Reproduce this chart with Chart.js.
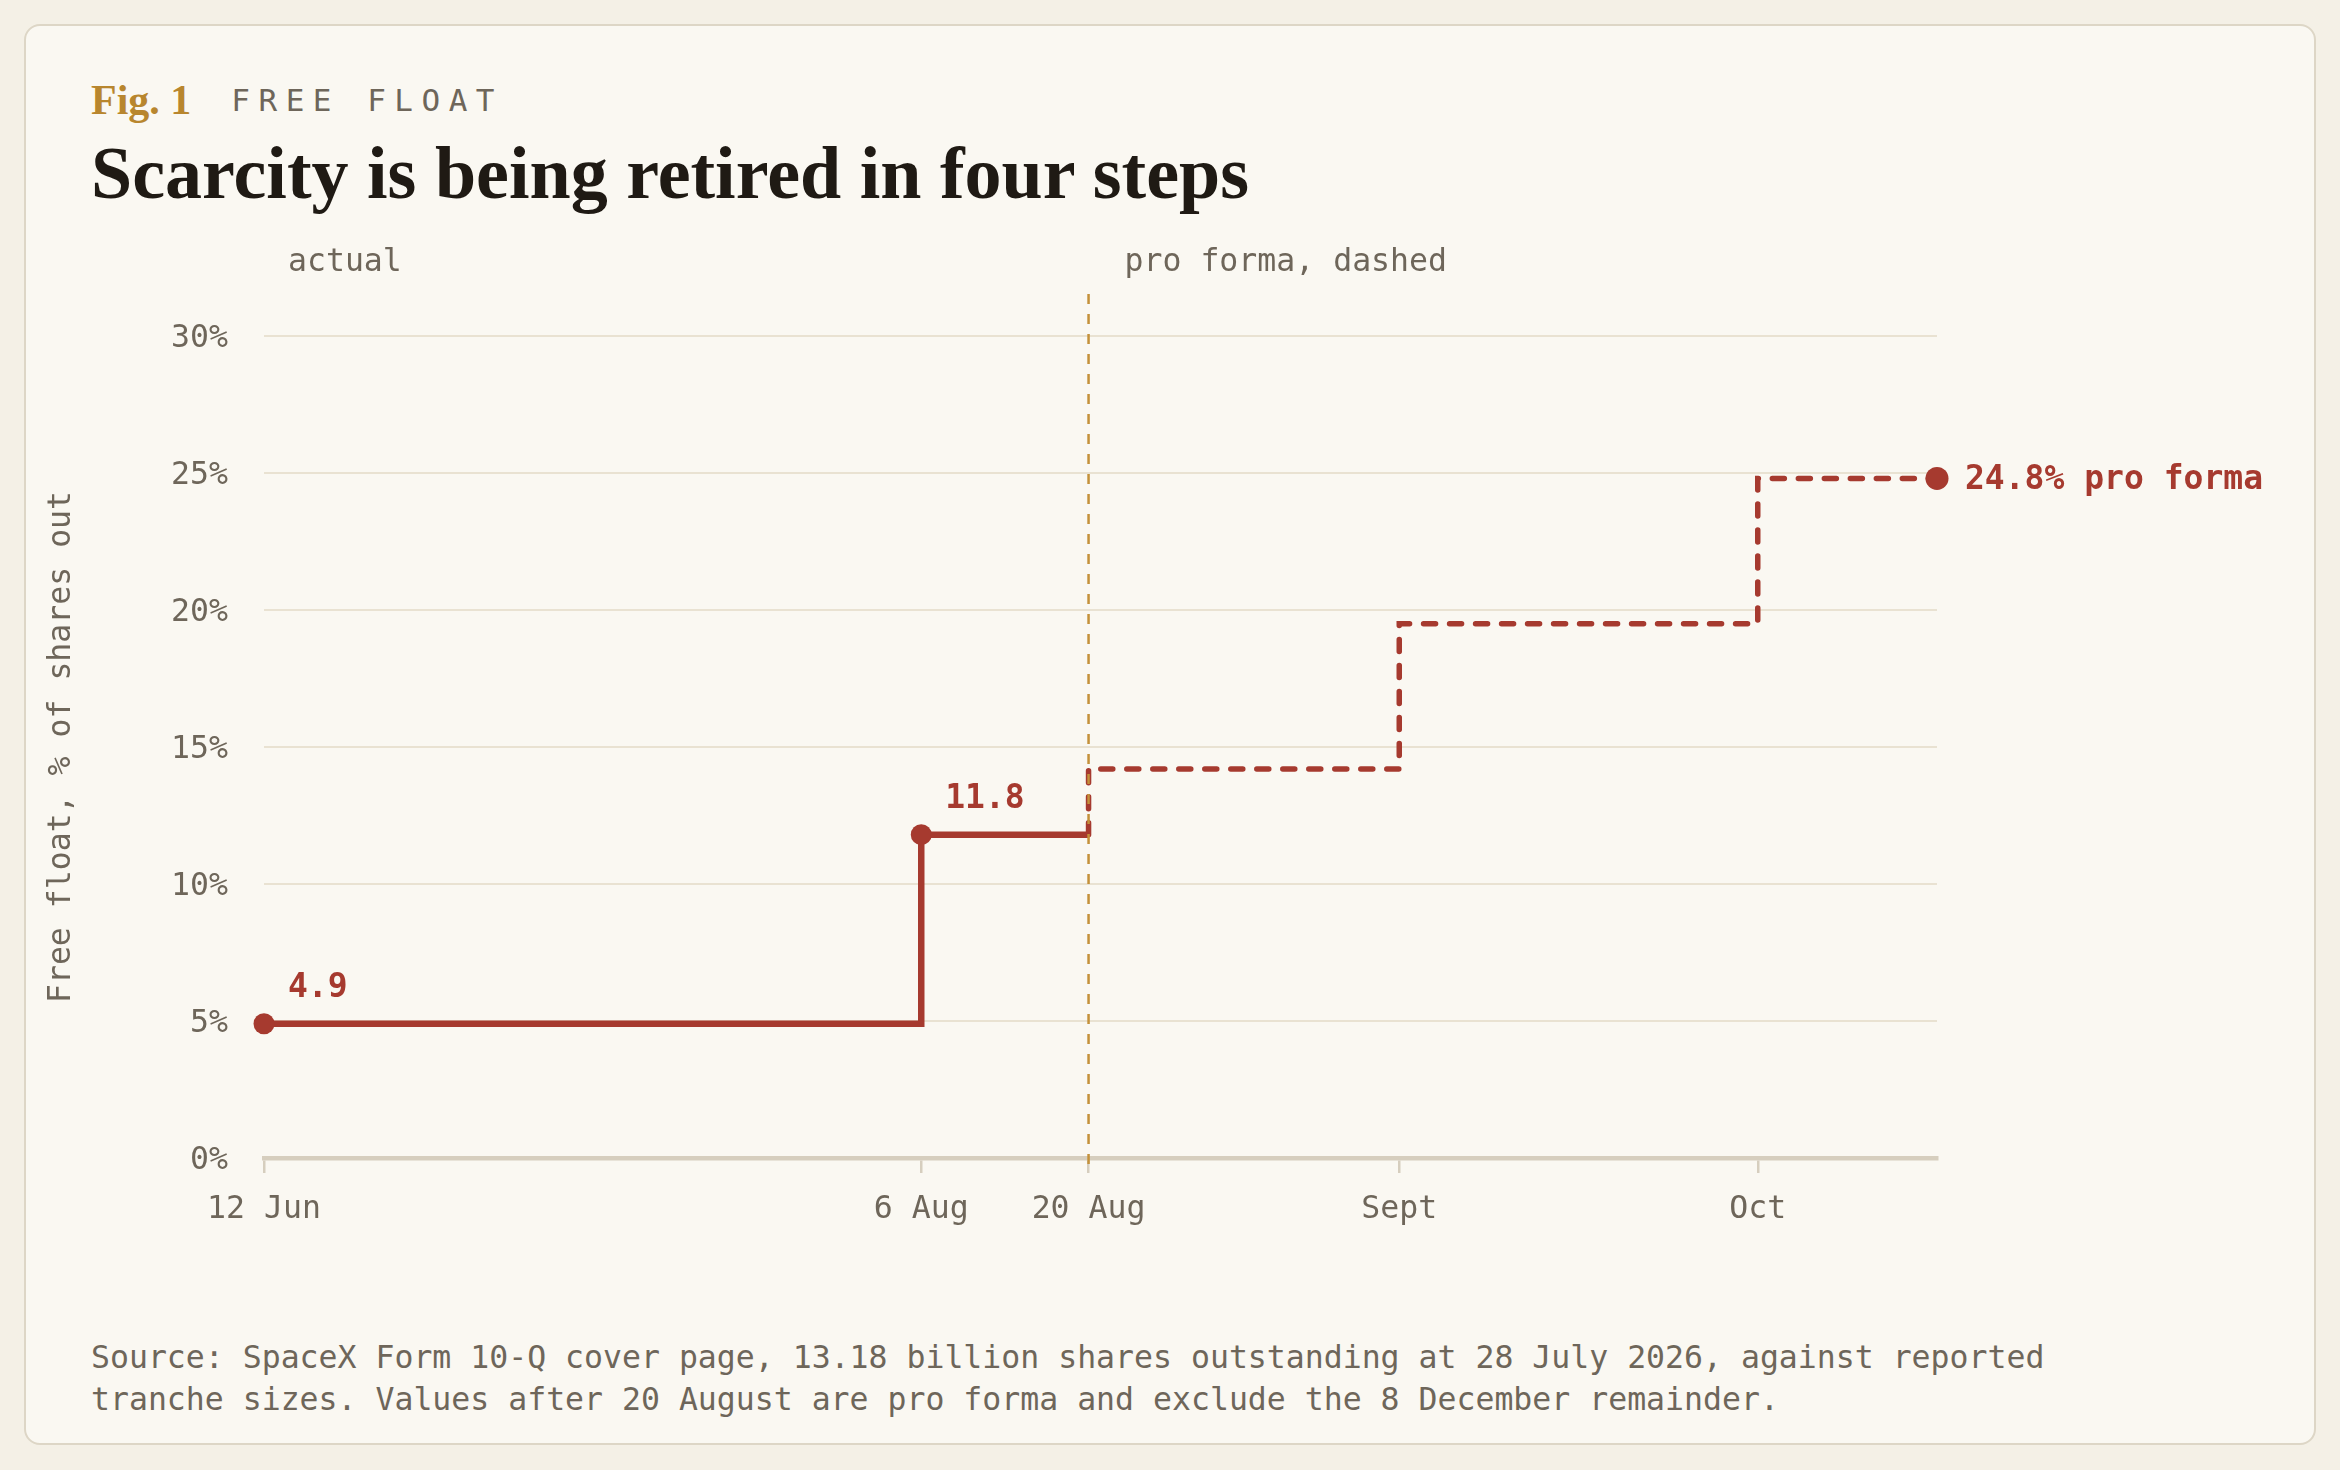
<!DOCTYPE html>
<html>
<head>
<meta charset="utf-8">
<script src="https://cdn.jsdelivr.net/npm/chart.js@4"></script>
<style>
  html, body { margin: 0; padding: 0; background: #f4f0e6; }
  body { width: 2340px; height: 1470px; position: relative; overflow: hidden; }
  .card {
    position: absolute; left: 24px; top: 24px; width: 2288px; height: 1417px;
    background: #faf8f2; border: 2px solid #ddd6c6; border-radius: 16px;
  }
  .kicker { position: absolute; left: 91px; top: 76px; white-space: nowrap; }
  .fig { font-family: "Liberation Serif", serif; font-weight: bold; font-size: 42px; color: #b8862e; }
  .label { font-family: "DejaVu Sans Mono", monospace; font-size: 31px; letter-spacing: 8.5px; color: #6e665a; margin-left: 40px; position: relative; top: -3px; }
  h1 {
    position: absolute; left: 91px; top: 133px; margin: 0;
    font-family: "Liberation Serif", serif; font-weight: bold; font-size: 74px; line-height: 80px;
    color: #1f1a14; white-space: nowrap;
  }
  .source {
    position: absolute; left: 91px; top: 1336px; margin: 0;
    font-family: "DejaVu Sans Mono", monospace; font-size: 31.5px; line-height: 42px; color: #6e665a;
  }
  canvas { position: absolute; left: 0; top: 0; }
</style>
</head>
<body>
<div class="card"></div>
<div class="kicker"><span class="fig">Fig. 1</span><span class="label">FREE FLOAT</span></div>
<h1>Scarcity is being retired in four steps</h1>
<p class="source">Source: SpaceX Form 10-Q cover page, 13.18 billion shares outstanding at 28 July 2026, against reported<br>tranche sizes. Values after 20 August are pro forma and exclude the 8 December remainder.</p>
<canvas id="chart" width="2340" height="1470"></canvas>
<script>
// Free float, % of shares outstanding
const startDate = '2026-06-12';
const endDate = '2026-10-30';
const cutoffDate = '2026-08-20';

// actual steps (last point carries the level to the cutoff)
const actualDates = ['2026-06-12', '2026-08-06', '2026-08-20'];
const actualValues = [4.9, 11.8, 11.8];
const actualLabels = ['4.9', '11.8', null];

// pro forma steps, starting from the last actual level
const proFormaDates = ['2026-08-20', '2026-08-20', '2026-09-15', '2026-10-15', '2026-10-30'];
const proFormaValues = [11.8, 14.2, 19.5, 24.8, 24.8];

const tickDates = ['2026-06-12', '2026-08-06', '2026-08-20', '2026-09-15', '2026-10-15'];
const tickLabels = ['12 Jun', '6 Aug', '20 Aug', 'Sept', 'Oct'];
const yTicks = [0, 5, 10, 15, 20, 25, 30];

const RED = '#a63a2f';
const GOLD = '#c4913a';
const INK = '#6e665a';
const MONO = '"DejaVu Sans Mono", monospace';

function dayOf(iso) {
  return (Date.parse(iso) - Date.parse(startDate)) / 86400000;
}

const actualPoints = actualDates.map((d, i) => ({ x: dayOf(d), y: actualValues[i] }));
const proFormaPoints = proFormaDates.map((d, i) => ({ x: dayOf(d), y: proFormaValues[i] }));

// Annotations: phase captions, cutoff line, value labels
const annotations = {
  id: 'annotations',
  afterDatasetsDraw(chart) {
    const { ctx, chartArea, scales: { x, y } } = chart;
    const cx = x.getPixelForValue(dayOf(cutoffDate));
    ctx.save();

    // cutoff line
    ctx.strokeStyle = GOLD;
    ctx.lineWidth = 2.5;
    ctx.setLineDash([10, 10]);
    ctx.beginPath();
    ctx.moveTo(cx, chartArea.top - 42);
    ctx.lineTo(cx, chartArea.bottom + 14);
    ctx.stroke();
    ctx.setLineDash([]);

    ctx.font = '31.5px ' + MONO;
    ctx.fillStyle = INK;
    ctx.textBaseline = 'middle';
    ctx.textAlign = 'left';
    ctx.fillText('actual', chartArea.left + 24, chartArea.top - 73);
    ctx.fillText('pro forma, dashed', cx + 36, chartArea.top - 73);

    // value labels
    ctx.font = 'bold 33px ' + MONO;
    ctx.fillStyle = RED;
    actualPoints.forEach((p, i) => {
      if (!actualLabels[i]) return;
      ctx.fillText(actualLabels[i], x.getPixelForValue(p.x) + 24, y.getPixelForValue(p.y) - 35);
    });
    const last = proFormaPoints[proFormaPoints.length - 1];
    ctx.fillText(last.y.toFixed(1) + '% pro forma', x.getPixelForValue(last.x) + 28, y.getPixelForValue(last.y) + 2);
    ctx.restore();
  }
};

new Chart(document.getElementById('chart'), {
  type: 'line',
  data: {
    datasets: [
      {
        label: 'actual',
        data: actualPoints,
        stepped: 'before',
        clip: false,
        borderColor: RED,
        backgroundColor: RED,
        borderWidth: 6.5,
        borderCapStyle: 'butt',
        pointRadius: [10.5, 10.5, 0],
        pointBorderWidth: 0,
        fill: false
      },
      {
        label: 'pro forma',
        data: proFormaPoints,
        stepped: 'before',
        clip: false,
        borderColor: RED,
        backgroundColor: RED,
        borderWidth: 5.5,
        borderDash: [12, 14],
        borderCapStyle: 'round',
        pointRadius: [0, 0, 0, 0, 11.5],
        pointBorderWidth: 0,
        fill: false
      }
    ]
  },
  options: {
    responsive: false,
    animation: false,
    events: [],
    layout: { padding: { top: 336, right: 403, bottom: 212, left: 0 } },
    plugins: { legend: { display: false }, tooltip: { enabled: false } },
    scales: {
      x: {
        type: 'linear',
        min: dayOf(startDate),
        max: dayOf(endDate),
        afterBuildTicks: scale => { scale.ticks = tickDates.map(d => ({ value: dayOf(d) })); },
        afterFit: scale => { scale.height = 100; },
        ticks: {
          autoSkip: false,
          maxRotation: 0,
          padding: 18,
          color: INK,
          font: { family: MONO, size: 31.5 },
          callback: v => tickLabels[tickDates.findIndex(d => dayOf(d) === v)]
        },
        grid: { drawOnChartArea: false, drawTicks: true, tickLength: 15, color: '#d6cebe', lineWidth: 2.5 },
        border: { display: true, color: '#d6cebe', width: 4.5 }
      },
      y: {
        min: 0,
        max: 30,
        afterBuildTicks: scale => { scale.ticks = yTicks.map(v => ({ value: v })); },
        afterFit: scale => { scale.width = 264; },
        ticks: {
          padding: 36,
          labelOffset: 3,
          color: INK,
          font: { family: MONO, size: 31.5 },
          callback: v => v + '%'
        },
        grid: { drawTicks: false, color: '#e9e2d2', lineWidth: 2 },
        border: { display: false },
        title: {
          display: true,
          text: 'Free float, % of shares out',
          color: INK,
          font: { family: MONO, size: 31.5 },
          padding: { top: 43, bottom: 0 }
        }
      }
    }
  },
  plugins: [annotations]
});
</script>
</body>
</html>
